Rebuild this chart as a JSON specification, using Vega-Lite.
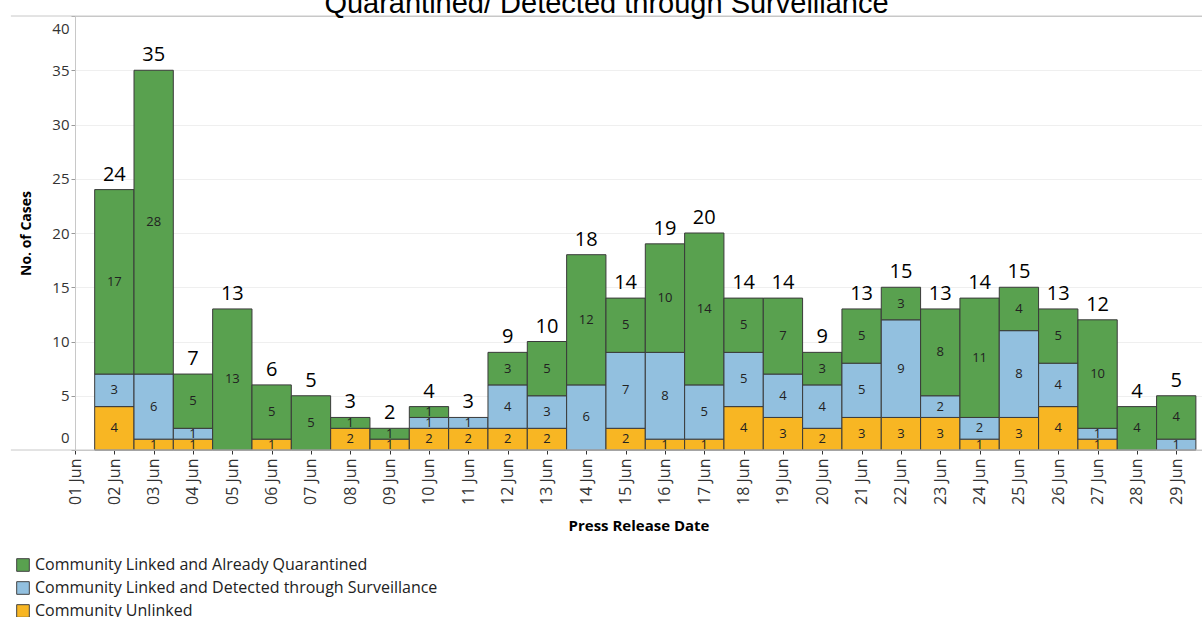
{
  "$schema": "https://vega.github.io/schema/vega-lite/v6.json",
  "width": 1127,
  "height": 434,
  "autosize": {"type": "none"},
  "padding": {"left": 75, "top": 16, "right": 0, "bottom": 167},
  "background": "white",
  "title": {"text": "Quarantined/ Detected through Surveillance", "font": "Liberation Sans", "fontSize": 29, "fontWeight": "normal", "color": "#000", "anchor": "middle", "baseline": "alphabetic", "offset": 0, "dx": -32, "dy": 26},
  "config": {"view": {"stroke": null}, "font": "Open Sans"},
  "data": {"values": [
    {"day": 2, "category": "Community Unlinked", "count": 4},
    {"day": 2, "category": "Community Linked and Detected through Surveillance", "count": 3},
    {"day": 2, "category": "Community Linked and Already Quarantined", "count": 17},
    {"day": 3, "category": "Community Unlinked", "count": 1},
    {"day": 3, "category": "Community Linked and Detected through Surveillance", "count": 6},
    {"day": 3, "category": "Community Linked and Already Quarantined", "count": 28},
    {"day": 4, "category": "Community Unlinked", "count": 1},
    {"day": 4, "category": "Community Linked and Detected through Surveillance", "count": 1},
    {"day": 4, "category": "Community Linked and Already Quarantined", "count": 5},
    {"day": 5, "category": "Community Linked and Already Quarantined", "count": 13},
    {"day": 6, "category": "Community Unlinked", "count": 1},
    {"day": 6, "category": "Community Linked and Already Quarantined", "count": 5},
    {"day": 7, "category": "Community Linked and Already Quarantined", "count": 5},
    {"day": 8, "category": "Community Unlinked", "count": 2},
    {"day": 8, "category": "Community Linked and Already Quarantined", "count": 1},
    {"day": 9, "category": "Community Unlinked", "count": 1},
    {"day": 9, "category": "Community Linked and Already Quarantined", "count": 1},
    {"day": 10, "category": "Community Unlinked", "count": 2},
    {"day": 10, "category": "Community Linked and Detected through Surveillance", "count": 1},
    {"day": 10, "category": "Community Linked and Already Quarantined", "count": 1},
    {"day": 11, "category": "Community Unlinked", "count": 2},
    {"day": 11, "category": "Community Linked and Detected through Surveillance", "count": 1},
    {"day": 12, "category": "Community Unlinked", "count": 2},
    {"day": 12, "category": "Community Linked and Detected through Surveillance", "count": 4},
    {"day": 12, "category": "Community Linked and Already Quarantined", "count": 3},
    {"day": 13, "category": "Community Unlinked", "count": 2},
    {"day": 13, "category": "Community Linked and Detected through Surveillance", "count": 3},
    {"day": 13, "category": "Community Linked and Already Quarantined", "count": 5},
    {"day": 14, "category": "Community Linked and Detected through Surveillance", "count": 6},
    {"day": 14, "category": "Community Linked and Already Quarantined", "count": 12},
    {"day": 15, "category": "Community Unlinked", "count": 2},
    {"day": 15, "category": "Community Linked and Detected through Surveillance", "count": 7},
    {"day": 15, "category": "Community Linked and Already Quarantined", "count": 5},
    {"day": 16, "category": "Community Unlinked", "count": 1},
    {"day": 16, "category": "Community Linked and Detected through Surveillance", "count": 8},
    {"day": 16, "category": "Community Linked and Already Quarantined", "count": 10},
    {"day": 17, "category": "Community Unlinked", "count": 1},
    {"day": 17, "category": "Community Linked and Detected through Surveillance", "count": 5},
    {"day": 17, "category": "Community Linked and Already Quarantined", "count": 14},
    {"day": 18, "category": "Community Unlinked", "count": 4},
    {"day": 18, "category": "Community Linked and Detected through Surveillance", "count": 5},
    {"day": 18, "category": "Community Linked and Already Quarantined", "count": 5},
    {"day": 19, "category": "Community Unlinked", "count": 3},
    {"day": 19, "category": "Community Linked and Detected through Surveillance", "count": 4},
    {"day": 19, "category": "Community Linked and Already Quarantined", "count": 7},
    {"day": 20, "category": "Community Unlinked", "count": 2},
    {"day": 20, "category": "Community Linked and Detected through Surveillance", "count": 4},
    {"day": 20, "category": "Community Linked and Already Quarantined", "count": 3},
    {"day": 21, "category": "Community Unlinked", "count": 3},
    {"day": 21, "category": "Community Linked and Detected through Surveillance", "count": 5},
    {"day": 21, "category": "Community Linked and Already Quarantined", "count": 5},
    {"day": 22, "category": "Community Unlinked", "count": 3},
    {"day": 22, "category": "Community Linked and Detected through Surveillance", "count": 9},
    {"day": 22, "category": "Community Linked and Already Quarantined", "count": 3},
    {"day": 23, "category": "Community Unlinked", "count": 3},
    {"day": 23, "category": "Community Linked and Detected through Surveillance", "count": 2},
    {"day": 23, "category": "Community Linked and Already Quarantined", "count": 8},
    {"day": 24, "category": "Community Unlinked", "count": 1},
    {"day": 24, "category": "Community Linked and Detected through Surveillance", "count": 2},
    {"day": 24, "category": "Community Linked and Already Quarantined", "count": 11},
    {"day": 25, "category": "Community Unlinked", "count": 3},
    {"day": 25, "category": "Community Linked and Detected through Surveillance", "count": 8},
    {"day": 25, "category": "Community Linked and Already Quarantined", "count": 4},
    {"day": 26, "category": "Community Unlinked", "count": 4},
    {"day": 26, "category": "Community Linked and Detected through Surveillance", "count": 4},
    {"day": 26, "category": "Community Linked and Already Quarantined", "count": 5},
    {"day": 27, "category": "Community Unlinked", "count": 1},
    {"day": 27, "category": "Community Linked and Detected through Surveillance", "count": 1},
    {"day": 27, "category": "Community Linked and Already Quarantined", "count": 10},
    {"day": 28, "category": "Community Linked and Already Quarantined", "count": 4},
    {"day": 29, "category": "Community Linked and Detected through Surveillance", "count": 1},
    {"day": 29, "category": "Community Linked and Already Quarantined", "count": 4}
  ]},
  "layer": [
    {
      "mark": {"type": "bar", "size": 39.3, "stroke": "#3a3a3a", "strokeWidth": 1},
      "encoding": {
        "x": {"field": "day", "type": "quantitative",
          "scale": {"domain": [1, 29.655], "nice": false, "zero": false, "padding": 0},
          "axis": {"title": "Press Release Date", "values": [1,2,3,4,5,6,7,8,9,10,11,12,13,14,15,16,17,18,19,20,21,22,23,24,25,26,27,28,29],
            "labelExpr": "(datum.value < 10 ? '0' : '') + datum.value + ' Jun'",
            "labelAngle": 270, "labelAlign": "right", "labelBaseline": "middle", "labelFontSize": 16, "labelColor": "#333", "labelPadding": 4,
            "labelFlush": false, "labelOverlap": false, "labelBound": false,
            "tickSize": 4, "tickColor": "#333", "domainColor": "#c8c8c8", "grid": false,
            "titleFontSize": 15, "titleFontWeight": "bold", "titleColor": "#000", "titlePadding": 14}},
        "y": {"aggregate": "sum", "field": "count", "type": "quantitative",
          "scale": {"domain": [0, 40], "nice": false},
          "axis": {"title": "No. of Cases", "values": [0,5,10,15,20,25,30,35,40], "grid": true,
            "gridColor": {"condition": {"test": "datum.value === 40", "value": "#c8c8c8"}, "value": "#efefef"},
            "domainColor": "#c8c8c8", "tickColor": "#999", "tickSize": 4, "labelPadding": 2, "labelFontSize": 15, "labelColor": "#333",
            "labelFlush": true, "labelFlushOffset": -5,
            "titleFontSize": 14, "titleFontWeight": "bold", "titleColor": "#000", "titlePadding": 18}},
        "color": {"field": "category", "type": "nominal",
          "scale": {"domain": ["Community Linked and Already Quarantined", "Community Linked and Detected through Surveillance", "Community Unlinked"],
                    "range": ["#59a14f", "#92c0df", "#f8b623"]},
          "legend": {"title": null, "orient": "none", "legendX": -60, "legendY": 541, "symbolType": "square", "symbolSize": 160,
            "symbolStrokeColor": "#444", "symbolStrokeWidth": 1, "symbolOpacity": 1, "labelFontSize": 16, "labelColor": "#222", "rowPadding": 5, "labelLimit": 0}},
        "order": {"field": "category", "sort": "descending"}
      }
    },
    {
      "mark": {"type": "text", "fontSize": 13, "color": "#222"},
      "encoding": {
        "x": {"field": "day", "type": "quantitative"},
        "y": {"aggregate": "sum", "field": "count", "type": "quantitative", "stack": "zero", "bandPosition": 0.5},
        "detail": {"field": "category"},
        "order": {"field": "category", "sort": "descending"},
        "text": {"aggregate": "sum", "field": "count", "type": "quantitative"}
      }
    },
    {
      "transform": [{"aggregate": [{"op": "sum", "field": "count", "as": "total"}], "groupby": ["day"]}],
      "mark": {"type": "text", "fontSize": 20, "baseline": "bottom", "dy": -5, "color": "#000"},
      "encoding": {
        "x": {"field": "day", "type": "quantitative"},
        "y": {"field": "total", "type": "quantitative"},
        "text": {"field": "total", "type": "quantitative"}
      }
    },
    {
      "data": {"values": [{"edge": 0}, {"edge": 40}]},
      "mark": {"type": "rule", "color": "#c8c8c8", "strokeWidth": 1},
      "encoding": {
        "y": {"field": "edge", "type": "quantitative"},
        "x": {"datum": -0.63},
        "x2": {"datum": 29.655}
      }
    }
  ]
}
